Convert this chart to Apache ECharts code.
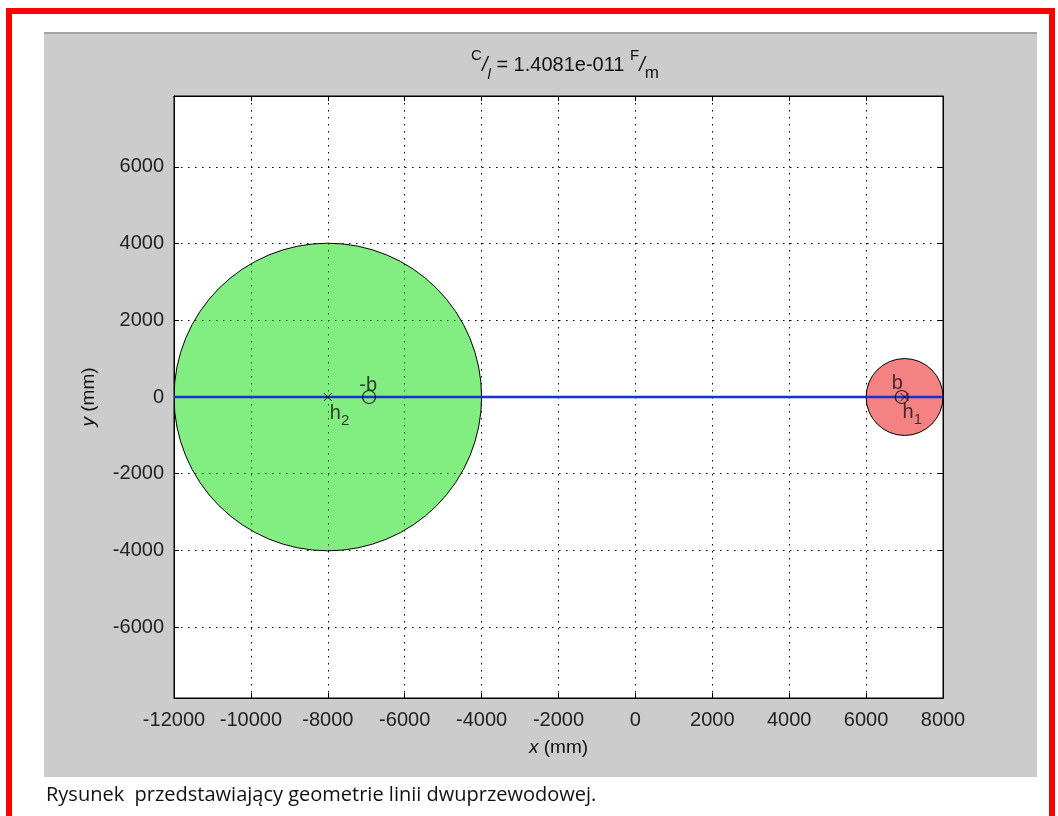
<!DOCTYPE html>
<html>
<head>
<meta charset="utf-8">
<title>Geometria linii dwuprzewodowej</title>
<script src="https://cdn.jsdelivr.net/npm/echarts@6/dist/echarts.min.js"></script>
<style>
  html, body { margin: 0; padding: 0; background: #fff; }
  #chart { width: 1058px; height: 816px; }
</style>
</head>
<body>
<div id="chart"></div>
<script>
// zakres osi
const xMin = -12000;
const xMax = 8000;
const xStep = 2000;
const yMin = -7850;
const yMax = 7850;
const yTicks = [-6000, -4000, -2000, 0, 2000, 4000, 6000];

// przewody: srodek h i promien r
const wireNames = ['h1', 'h2'];
const wireCenters = [7000, -8000];
const wireRadii = [1000, 4000];
const wireFills = ['rgba(235,0,0,0.49)', 'rgba(0,220,0,0.49)'];

// osie elektryczne +-b
const chargeNames = ['b', '-b'];
const chargePos = [6928, -6928];

// linia laczaca przewody
const lineX = [-12000, 8000];
const lineY = [0, 0];

const caption = 'Rysunek  przedstawiający geometrie linii dwuprzewodowej.';

const font = '"Liberation Sans", Arial, sans-serif';

const subLabel = name => {
  const m = name.match(/^([a-z-]+)(\d*)$/);
  return m[2] ? `{t|${m[1]}}{s|${m[2]}}` : `{t|${m[1]}}`;
};

const labelRich = {
  t: { fontSize: 20, lineHeight: 30, fontFamily: font, color: '#111' },
  s: { fontSize: 15, lineHeight: 15, fontFamily: font, color: '#111', verticalAlign: 'bottom' },
};

// pozycje etykiet (przesuniecie wzgledem markera)
const wireLabelOffset = [[-2, 0], [2, 1]];
const chargeLabelOffset = [[1, -14], [8, -12]];

const myChart = echarts.init(document.getElementById('chart'));

const tickStyle = { show: true, inside: true, length: 5, lineStyle: { color: '#000', width: 1 } };
const plain = v => String(v);

myChart.setOption({
  animation: false,
  backgroundColor: '#fff',
  title: {
    left: 560,
    top: 43,
    textAlign: 'center',
    text: '{sup|C}{sl|/}{sub|l}{m| = 1.4081e-011 }{sup|F}{sl|/}{subm|m}',
    textStyle: {
      fontWeight: 'normal',
      rich: {
        m: { fontSize: 20, lineHeight: 34, fontFamily: font, color: '#111' },
        sl: { fontSize: 20, lineHeight: 34, fontFamily: font, color: '#111', fontStyle: 'italic' },
        sup: { fontSize: 15, lineHeight: 18, fontFamily: font, color: '#111', verticalAlign: 'top' },
        sub: { fontSize: 15, lineHeight: 15, fontFamily: font, color: '#111', verticalAlign: 'bottom', fontStyle: 'italic' },
        subm: { fontSize: 17, lineHeight: 17, fontFamily: font, color: '#111', verticalAlign: 'bottom' },
      },
    },
  },
  graphic: [
    { type: 'rect', z: -20, shape: { x: 44, y: 33, width: 993, height: 744 }, style: { fill: '#cccccc' } },
    { type: 'rect', z: -19, shape: { x: 44, y: 32, width: 993, height: 2 }, style: { fill: '#a4a4a4' } },
    { type: 'rect', z: 50, shape: { x: 6, y: 8, width: 6, height: 808 }, style: { fill: '#ff0000' } },
    { type: 'rect', z: 50, shape: { x: 6, y: 8, width: 1049, height: 6 }, style: { fill: '#ff0000' } },
    { type: 'rect', z: 50, shape: { x: 1049, y: 8, width: 6, height: 808 }, style: { fill: '#ff0000' } },
    {
      type: 'text', z: 50, x: 46, y: 795,
      style: { text: caption, fill: '#111', font: '20px "Open Sans", sans-serif', verticalAlign: 'middle' },
    },
  ],
  grid: {
    left: 174,
    right: 115,
    top: 96,
    bottom: 118,
    show: true,
    backgroundColor: '#fff',
    borderColor: '#000',
    borderWidth: 1,
  },
  xAxis: [
    {
      type: 'value',
      position: 'bottom',
      min: xMin,
      max: xMax,
      interval: xStep,
      name: '{i|x} (mm)',
      nameLocation: 'middle',
      nameGap: 40,
      nameTextStyle: {
        fontSize: 19, fontFamily: font, color: '#111',
        rich: { i: { fontSize: 19, fontFamily: font, fontStyle: 'italic', color: '#111' } },
      },
      axisLine: { show: true, onZero: false, lineStyle: { color: '#000', width: 1 } },
      axisTick: tickStyle,
      axisLabel: { fontSize: 20, fontFamily: font, color: '#222', margin: 12, formatter: plain },
      splitLine: { show: true, lineStyle: { color: '#000', width: 1, type: [1.5, 5.5] } },
    },
    {
      type: 'value',
      position: 'top',
      min: xMin,
      max: xMax,
      interval: xStep,
      axisLine: { show: true, onZero: false, lineStyle: { color: '#000', width: 1 } },
      axisTick: tickStyle,
      axisLabel: { show: false },
      splitLine: { show: false },
    },
  ],
  yAxis: [
    {
      type: 'value',
      position: 'left',
      min: yMin,
      max: yMax,
      name: '{i|y} (mm)',
      nameLocation: 'middle',
      nameGap: 76,
      nameRotate: 90,
      nameTextStyle: {
        fontSize: 19, fontFamily: font, color: '#111',
        rich: { i: { fontSize: 19, fontFamily: font, fontStyle: 'italic', color: '#111' } },
      },
      axisLine: { show: true, onZero: false, lineStyle: { color: '#000', width: 1 } },
      axisTick: { ...tickStyle, customValues: yTicks },
      axisLabel: { fontSize: 20, fontFamily: font, color: '#222', margin: 10, customValues: yTicks, formatter: plain },
      splitLine: { show: true, lineStyle: { color: '#000', width: 1, type: [1.5, 5.5] } },
    },
    {
      type: 'value',
      position: 'right',
      min: yMin,
      max: yMax,
      axisLine: { show: true, onZero: false, lineStyle: { color: '#000', width: 1 } },
      axisTick: { ...tickStyle, customValues: yTicks },
      axisLabel: { show: false },
      splitLine: { show: false },
    },
  ],
  series: [
    {
      type: 'custom',
      name: 'przewody',
      clip: true,
      data: wireCenters.map((c, i) => [c, 0, wireRadii[i]]),
      renderItem: (params, api) => {
        const c = api.coord([api.value(0), api.value(1)]);
        const r = api.size([api.value(2), 0])[0];
        return {
          type: 'circle',
          shape: { cx: c[0], cy: c[1], r },
          style: { fill: wireFills[params.dataIndex], stroke: '#000', lineWidth: 1 },
        };
      },
      z: 2,
    },
    {
      type: 'line',
      name: 'os',
      data: lineX.map((x, i) => [x, lineY[i]]),
      symbol: 'none',
      lineStyle: { color: '#1733cc', width: 2.5 },
      z: 3,
    },
    {
      type: 'scatter',
      name: 'h',
      symbol: 'path://M0,0L10,10M10,0L0,10',
      symbolSize: 8,
      itemStyle: { color: 'none', borderColor: '#000', borderWidth: 1 },
      data: wireCenters.map((c, i) => ({
        name: wireNames[i],
        value: [c, 0],
        label: {
          show: true,
          position: 'inside',
          align: 'left',
          verticalAlign: 'top',
          offset: wireLabelOffset[i],
          formatter: p => subLabel(p.name),
          rich: labelRich,
        },
      })),
      z: 4,
    },
    {
      type: 'scatter',
      name: 'b',
      symbol: 'circle',
      symbolSize: 13,
      itemStyle: { color: 'rgba(0,0,0,0)', borderColor: '#000', borderWidth: 1.2 },
      data: chargePos.map((b, i) => ({
        name: chargeNames[i],
        value: [b, 0],
        label: {
          show: true,
          position: 'inside',
          align: 'right',
          verticalAlign: 'middle',
          offset: chargeLabelOffset[i],
          formatter: p => subLabel(p.name),
          rich: {
            t: { fontSize: 20, lineHeight: 22, fontFamily: font, color: '#111' },
            s: labelRich.s,
          },
        },
      })),
      z: 4,
    },
  ],
});
</script>
</body>
</html>
